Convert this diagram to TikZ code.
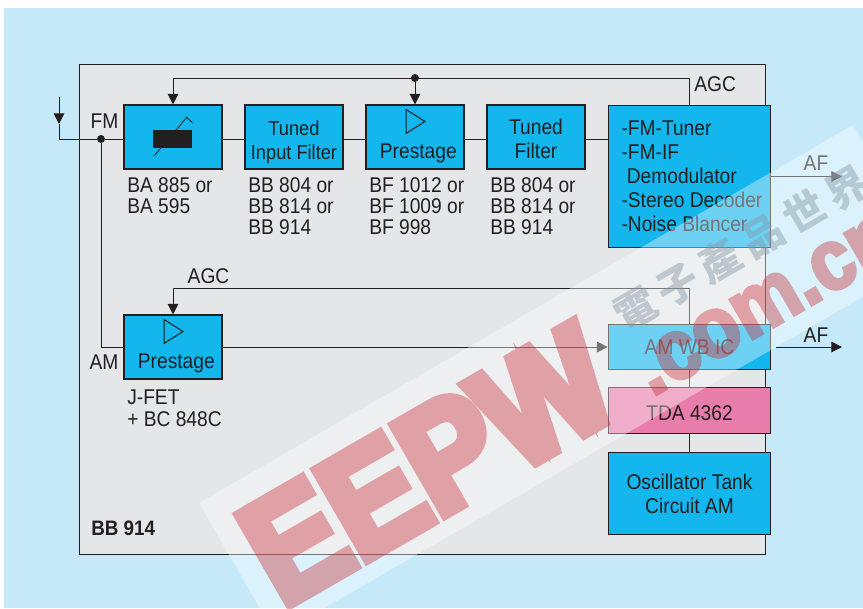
\documentclass[tikz,border=0pt]{standalone}
\usepackage{fontspec}
\setmainfont[FakeStretch=0.9]{Liberation Sans}
\newfontfamily\cjkmark{Noto Sans CJK TC}
\newfontfamily\namemark[FakeStretch=0.9,FakeBold=7]{Liberation Sans Bold}
\newfontfamily\webmark[FakeStretch=0.9,FakeBold=4]{Liberation Sans Bold}
\usetikzlibrary{arrows.meta}
\definecolor{pageblue}{HTML}{C6E9F9}
\definecolor{framegray}{HTML}{E5E6E8}
\definecolor{boxblue}{HTML}{14B6EE}
\definecolor{boxpink}{HTML}{E87DAB}
\definecolor{inkblack}{HTML}{231F20}
\definecolor{markred}{HTML}{C8242C}
\definecolor{markgray}{HTML}{3A5A70}
\tikzset{
  block/.style={draw=inkblack, line width=0.8pt, fill=boxblue, text=inkblack, align=center,
                inner sep=0pt, font=\fontsize{16}{18}\selectfont},
  smallblock/.style={block, minimum width=73.5pt, minimum height=48pt},
  wideblock/.style={block, minimum width=122pt},
  parts/.style={anchor=north west, inner sep=0pt, align=left, text=inkblack,
                font=\fontsize{16}{16}\selectfont},
  tag/.style={inner sep=0pt, text=inkblack, font=\fontsize{16}{18}\selectfont},
  wire/.style={draw=inkblack, line width=0.75pt},
  arrowwire/.style={wire, -{Triangle[length=8pt,width=8pt]}},
  joint/.style={circle, fill=inkblack, inner sep=0pt, minimum size=6pt}
}
\begin{document}
\begin{tikzpicture}[x=0.75pt, y=-0.75pt]
            \useasboundingbox (0,0) rectangle (863,608);
            \fill [white] (0,0) rectangle (863,608);
            \fill [pageblue] (4,8) rectangle (863,608);
            \draw [fill=framegray, draw=inkblack, line width=0.75pt] (79,64) rectangle (765,554);

            \node [smallblock] (varbox) at (173,137) {};
            \node [smallblock, font=\fontsize{15.2}{18}\selectfont] (filterone) at (294,137) {\rule{0pt}{18.4pt}Tuned\\Input Filter};
            \node [smallblock] (prestageone) at (415,137) {\hspace*{5pt}\rule{0pt}{35pt}Prestage};
            \node [smallblock] (filtertwo) at (536,137) {\rule{0pt}{15pt}Tuned\\Filter};
            \node [wideblock, minimum height=107pt] (tuner) at (689.5,176.5) {};
            \node [smallblock] (prestagetwo) at (173,347) {\hspace*{5pt}\rule{0pt}{35pt}Prestage};
            \node [wideblock, minimum height=34pt] (amic) at (689.5,347) {AM WB IC};
            \node [wideblock, minimum height=34pt, fill=boxpink] (tda) at (689.5,410.5) {\rule{0pt}{14.5pt}TDA 4362};
            \node [wideblock, minimum height=62pt] (tank) at (689.5,493.5) {Oscillator Tank\\Circuit AM};
            \node [block, draw=none, fill=none, align=left, anchor=west] (tunertext) at ([xshift=10pt]tuner.west)
                {-FM-Tuner\\-FM-IF\\\hspace*{4pt}Demodulator\\-Stereo Decoder\\-Noise Blancer};

            \foreach \b in {prestageone, prestagetwo}
                \draw [line width=0.75pt, color=inkblack, shift={(\b.north)}] (-9,5) -- (-9,29) -- (10,17) -- cycle;
            \fill [inkblack] (153,130) rectangle (192,148);
            \draw [line width=0.6pt, color=inkblack] (154,156) -- (187,117) (186,117) -- (193,123);

            \coordinate (fmstart) at (59,97);
            \coordinate (fmhead) at (59,124);
            \coordinate (agcup) at (689.5,78);
            \coordinate (amup) at (689.5,288);
            \coordinate (afone) at (842,176.5);
            \coordinate (afstart) at (776,347);
            \coordinate (aftwo) at (842,347);
            \node [joint] (fmdot) at (101,139) {};
            \node [joint] (agcdot) at (415,78) {};

            \draw [arrowwire] (fmstart) -- (fmhead);
            \draw [wire] (fmhead) |- (fmdot) -- (fmdot -| varbox.west);
            \foreach \a/\b in {varbox/filterone, filterone/prestageone, prestageone/filtertwo, filtertwo/tuner}
                \draw [wire] (\a.east |- fmdot) -- (\b.west |- fmdot);
            \draw [wire] (fmdot) |- (prestagetwo.west);
            \draw [wire] (tuner.north) -- (agcup);
            \draw [arrowwire] (agcup) -- (agcup -| varbox) -- (varbox.north);
            \draw [arrowwire] (agcdot) -- (prestageone.north);
            \draw [wire] (amic.north) -- (amup);
            \draw [arrowwire] (amup) -- (amup -| prestagetwo) -- (prestagetwo.north);
            \draw [arrowwire] (prestagetwo.east) -- (amic.west);
            \draw [wire] (amic.south) -- (tda.north);
            \draw [wire] (tda.south) -- (tank.north);
            \draw [arrowwire] (tuner.east) -- (afone);
            \draw [arrowwire] (afstart) -- (aftwo);

            \node [tag] (fmtag) at (104.5,121) {FM};
            \node [tag] (amtag) at (104,362) {AM};
            \node [tag, anchor=west] (agctagone) at (694,84) {AGC};
            \node [tag] (agctagtwo) at (208.5,276) {AGC};
            \node [tag] (aftagone) at (816,163) {AF};
            \node [tag] (aftagtwo) at (816,335) {AF};
            \node [tag, anchor=west, font=\fontsize{15.7}{18}\selectfont\bfseries] (chiptag) at (91,528) {BB 914};

            \node [parts] (partsvar) at (127,177) {BA 885 or\\BA 595};
            \node [parts] (partsone) at (248,177) {BB 804 or\\BB 814 or\\BB 914};
            \node [parts] (partstwo) at (369,177) {BF 1012 or\\BF 1009 or\\BF 998};
            \node [parts] (partsthree) at (490,177) {BB 804 or\\BB 814 or\\BB 914};
            \node [parts] (partsfet) at (127,390) {J-FET\\+ BC 848C};

            \begin{scope}
                \clip (0,0) rectangle (863,608);
                \node [rotate=30, text=markgray, opacity=0.45, inner sep=0pt, font=\cjkmark\bfseries\fontsize{31}{31}\selectfont] (markcjk) at (741,248)
                    {電\hspace{5.5pt}子\hspace{5.5pt}產\hspace{5.5pt}品\hspace{5.5pt}世\hspace{5.5pt}界};
                \fill [white, opacity=0.38] (199,503) -- (853,125) -- (930,258) -- (276,636) -- cycle;
                \begin{scope}[transparency group, opacity=0.38]
                    \node [rotate=30, text=markred, inner sep=0pt, font=\namemark\fontsize{112}{112}\selectfont] (markname) at (428,465) {EEPW};
                    \node [rotate=30, anchor=base west, text=markred, inner sep=0pt, font=\webmark\fontsize{64}{64}\selectfont] (markweb) at (652,397) {.com.cn};
                \end{scope}
            \end{scope}
        \end{tikzpicture}
\end{document}
